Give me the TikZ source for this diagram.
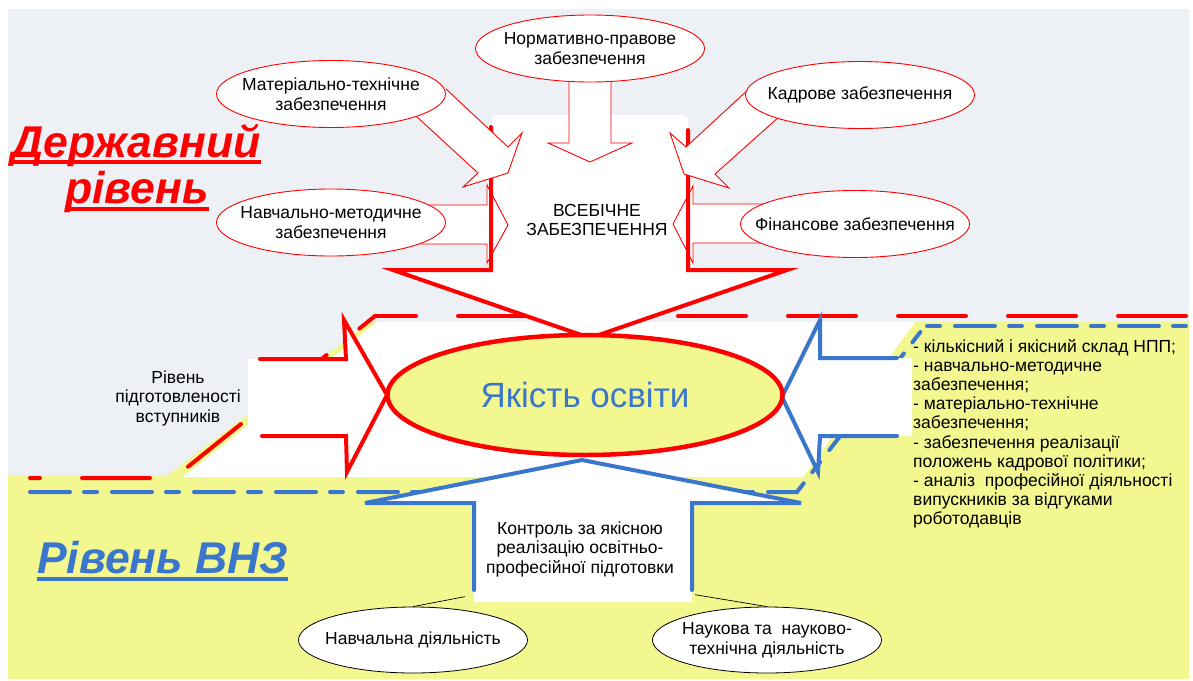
\documentclass[tikz,border=0pt]{standalone}
\usepackage{fontspec}
\setmainfont{Liberation Sans}
\usetikzlibrary{shapes.geometric}
\definecolor{bggrey}{RGB}{237,240,245}
\definecolor{lvlyellow}{RGB}{243,247,143}
\definecolor{lvlred}{RGB}{255,0,0}
\definecolor{lvlblue}{RGB}{58,119,204}
\begin{document}
\begin{tikzpicture}[x=1pt,y=-1pt,
  txt/.style={inner sep=0pt, align=center, font=\fontsize{17.5}{19.5}\selectfont},
  supell/.style={ellipse, draw=lvlred, line width=0.9pt, fill=white, minimum width=229pt, minimum height=67pt,
                 inner xsep=-20pt, inner ysep=0pt, align=center, font=\fontsize{17.5}{20}\selectfont},
  actell/.style={ellipse, draw=black, line width=0.8pt, fill=white, minimum width=229pt, minimum height=66pt,
                 inner xsep=-20pt, inner ysep=0pt, align=center, font=\fontsize{17.5}{20}\selectfont},
  feed/.style={draw=lvlred, line width=0.9pt, fill=white, line join=miter},
  redframe/.style={draw=lvlred, line width=4pt, line cap=round, line join=miter},
  blueframe/.style={draw=lvlblue, line width=4pt, line cap=round, line join=miter},
  heading/.style={inner sep=0pt, font=\fontsize{44.5}{50}\selectfont\bfseries\itshape},
]
\useasboundingbox (0,0) rectangle (1193,680);
\fill[white] (0,0) rectangle (1193,680);

% the two levels
\fill[bggrey] (8,9) rectangle (1189,679);
\fill[lvlyellow] (8,475) -- (168,475) -- (370,322) -- (1189,322) -- (1189,679) -- (8,679) -- cycle;
\fill[white] (377,322) -- (915,322) -- (803,477) -- (183,477) -- cycle;

% level boundaries
\draw[lvlred, line width=4pt, line cap=round, dash pattern=on 68pt off 42pt, dash phase=58pt]
  (30,478) -- (174,478) -- (375,316);
\draw[lvlred, line width=4pt, line cap=round, dash pattern=on 68pt off 42pt, dash phase=27pt]
  (375,316) -- (1190,316);
\draw[lvlblue, line width=4pt, line cap=round, dash pattern=on 40pt off 14pt on 13pt off 15pt]
  (30,492) -- (797,492) -- (925,326);
\draw[lvlblue, line width=4pt, line cap=round, dash pattern=on 40pt off 14pt on 13pt off 15pt, dash phase=52pt]
  (925,326) -- (1190,326);

% entrants arrow
\fill[white] (248,359) -- (346,359) -- (344,320) -- (387,395) -- (347,472) -- (346,436) -- (248,436) -- cycle;
\draw[redframe] (260,359) -- (346,359) -- (344,320) -- (387,395) -- (347,472) -- (346,436) -- (262,436);

% university resources arrow
\fill[white] (912,358) -- (820,358) -- (820,320) -- (782,397) -- (818,472) -- (820,436) -- (912,436) -- cycle;
\draw[blueframe] (897,358) -- (820,358) -- (820,320) -- (782,397) -- (818,472) -- (820,436) -- (897,436);

% quality control arrow
\fill[white] (474,602) -- (474,503) -- (365,503) -- (582,460) -- (801,503) -- (692,503) -- (692,602) -- cycle;
\draw[blueframe] (474,590) -- (474,503) -- (365,503) -- (582,460) -- (801,503) -- (692,503) -- (692,590);

% all-round support arrow
\fill[white, rounded corners=4pt] (492,115) rectangle (688,200);
\fill[white] (492,190) -- (688,190) -- (688,270) -- (787,270) -- (590,338) -- (393,270) -- (492,270) -- cycle;

% side feeds into the support block
\filldraw[feed] (426,205) -- (487,205) -- (487,185) -- (508,225) -- (487,263) -- (487,244) -- (420,244);
\filldraw[feed] (765,204) -- (693,204) -- (693,186) -- (673,224) -- (693,263) -- (693,243) -- (762,243);

\draw[redframe] (491,127) -- (491,270) -- (393,270) -- (590,338) -- (787,270) -- (688,270) -- (688,130);

\filldraw[feed] (446,89) -- (508,147) -- (522,133) -- (508,173) -- (463,187) -- (478,173) -- (416,116);
\filldraw[feed] (750,88) -- (686,147) -- (670,133) -- (684,174) -- (729,188) -- (715,174) -- (780,116);
\filldraw[feed] (569,78) -- (569,143) -- (548,143) -- (590,162) -- (632,143) -- (611,143) -- (611,78);

% quality of education
\node[ellipse, draw=lvlred, line width=4.5pt, fill=lvlyellow, minimum width=395pt, minimum height=120pt,
      inner sep=0pt, text=lvlblue, font=\fontsize{35}{40}\selectfont] (quality) at (585,395) {Якість освіти};

% kinds of support
\node[supell] (norm) at (590,48.5) {Нормативно-правове\\забезпечення};
\node[supell] (mat)  at (331,94)   {Матеріально-технічне\\забезпечення};
\node[supell] (meth) at (331,222.5){Навчально-методичне\\забезпечення};
\node[supell] (staff) at (860,95)  {Кадрове забезпечення};
\node[supell] (fin)  at (855,224)  {Фінансове забезпечення};

\node[txt] (allsup) at (597,220) {ВСЕБІЧНЕ\\ЗАБЕЗПЕЧЕННЯ};
\node[txt] (entr) at (178,398) {Рівень\\підготовленості\\вступників};

% university level
\node[txt, minimum width=218pt, minimum height=99pt] (ctrl) at (580,549)
  {Контроль за якісною\\реалізацію освітньо-\\професійної підготовки};
\node[actell] (study) at (413,640) {Навчальна діяльність};
\node[actell] (research) at (767,640) {Наукова та~ науково-\\технічна діяльність};
\draw[black, line width=0.7pt] (study.north) -- ([xshift=-6pt,yshift=2pt]ctrl.south west);
\draw[black, line width=0.7pt] (research.north) -- ([xshift=6pt,yshift=4pt]ctrl.south east);

\node[inner sep=0pt, align=left, anchor=north west, font=\fontsize{17.5}{19.2}\selectfont] (vnzlist) at (913,339)
  {- кількісний і якісний склад НПП;\\
   - навчально-методичне\\
   забезпечення;\\
   - матеріально-технічне\\
   забезпечення;\\
   - забезпечення реалізації\\
   положень кадрової політики;\\
   - аналіз~ професійної діяльності\\
   випускників за відгуками\\
   роботодавців};

% level titles
\node[heading, text=lvlred, anchor=base] (state1) at (136,157) {Державний};
\node[heading, text=lvlred, anchor=base] (state2) at (137,203) {рівень};
\draw[lvlred, line width=3.5pt] ([yshift=-5pt]state1.base west) -- ([yshift=-5pt]state1.base east);
\draw[lvlred, line width=3.5pt] ([yshift=-6pt]state2.base west) -- ([yshift=-6pt]state2.base east);
\node[heading, text=lvlblue, anchor=base west] (vnz) at (37,573) {Рівень ВНЗ};
\draw[lvlblue, line width=3.5pt] ([yshift=-6pt]vnz.base west) -- ([yshift=-6pt]vnz.base east);
\end{tikzpicture}
\end{document}
